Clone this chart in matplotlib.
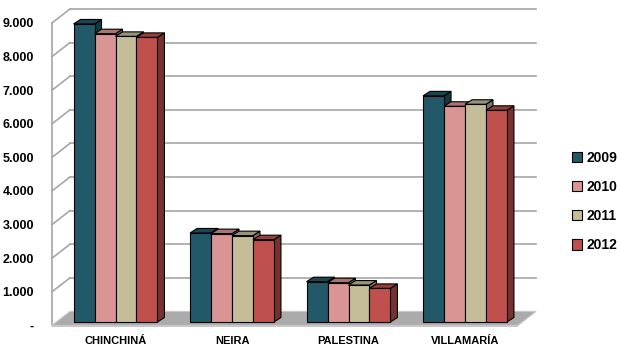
import numpy as np
import matplotlib.pyplot as plt
from matplotlib.patches import Polygon, Patch
from matplotlib.colors import to_rgb

# data
municipios = ["CHINCHINÁ", "NEIRA", "PALESTINA", "VILLAMARÍA"]
years = ["2009", "2010", "2011", "2012"]
v2009 = [8870, 2650, 1200, 6730]
v2010 = [8580, 2630, 1170, 6420]
v2011 = [8500, 2570, 1100, 6480]
v2012 = [8470, 2450, 1000, 6300]
yticks = [0, 1000, 2000, 3000, 4000, 5000, 6000, 7000, 8000, 9000]
colors = ["#215968", "#D99594", "#C4BD97", "#C0504D"]

series = [v2009, v2010, v2011, v2012]

def shade(c, f):
    return tuple(np.array(to_rgb(c)) * f)

fig = plt.figure(figsize=(6.17, 3.5), dpi=100)
W, H = 617, 350
ax = fig.add_axes([48 / W, 18 / H, (W - 48) / W, 332 / H])

px = 116.5          # pixels per category unit
vpp = 29.76         # value units per pixel
ax.set_xlim((48 - 115.5) / px, (617 - 115.5) / px)
ax.set_ylim(-6.6 * vpp, 325.4 * vpp)

# pseudo-3D geometry
wall_dx, wall_dy = 18 / px, 14 * vpp
bar_dx, bar_dy = 7 / px, 4.5 * vpp
bar_base = 3.4 * vpp
x_front_l = (52 - 115.5) / px
x_front_r = (518 - 115.5) / px
x_back_l = x_front_l + wall_dx
x_back_r = x_front_r + wall_dx
top = yticks[-1]
grid_c = "#A6A6A6"

# floor
ax.add_patch(Polygon([(x_front_l, 0), (x_front_r, 0), (x_back_r, wall_dy), (x_back_l, wall_dy)],
                     closed=True, fc="#ABABAB", ec="#C8C8C8", lw=0.8, zorder=1))
ax.add_patch(Polygon([(x_front_l, 0), (x_front_r, 0), (x_front_r, -2 * vpp), (x_front_l, -2 * vpp)],
                     closed=True, fc="#C8C8C8", ec="none", zorder=1))

# gridlines on back wall and left wall
for v in yticks[1:]:
    ax.plot([x_back_l, x_back_r], [v + wall_dy, v + wall_dy], color=grid_c, lw=1.2, zorder=0.5)
    ax.plot([x_front_l, x_back_l], [v, v + wall_dy], color=grid_c, lw=1.2, zorder=0.5)
ax.plot([x_front_l, x_front_l], [0, top], color=grid_c, lw=1.2, zorder=0.5)

# bars
bw = 0.18
x = np.arange(len(municipios))
z = 2
for g in range(len(municipios)):
    for i, vals in enumerate(series):
        xc = x[g] + (i - 1.5) * bw
        v = vals[g]
        xl, xr = xc - bw / 2, xc + bw / 2
        yb, yt = bar_base, bar_base + v
        ax.add_patch(Polygon([(xr, yb), (xr + bar_dx, yb + bar_dy), (xr + bar_dx, yt + bar_dy), (xr, yt)],
                             closed=True, fc=shade(colors[i], 0.62), ec="black", lw=0.8, zorder=z))
        ax.add_patch(Polygon([(xl, yt), (xl + bar_dx, yt + bar_dy), (xr + bar_dx, yt + bar_dy), (xr, yt)],
                             closed=True, fc=shade(colors[i], 0.78), ec="black", lw=0.8, zorder=z))
        ax.bar(xc, v, bw, bottom=bar_base, color=colors[i], edgecolor="black", lw=0.8, zorder=z + 0.5)
        z += 1

# axes text
for s in ax.spines.values():
    s.set_visible(False)
ax.set_yticks(yticks, ["-" if t == 0 else f"{t:,}".replace(",", ".") for t in yticks])
ax.set_xticks(x, municipios)
ax.tick_params(length=0)
ax.tick_params(axis="y", pad=10, labelsize=9)
ax.tick_params(axis="x", pad=3, labelsize=8)
for lab in ax.get_xticklabels() + ax.get_yticklabels():
    lab.set_fontweight("bold")
    lab.set_fontfamily(["Liberation Sans", "DejaVu Sans"])

handles = [Patch(fc=c, ec="black", lw=0.8) for c in colors]
leg = fig.legend(handles, years, loc="center left", bbox_to_anchor=(572 / W, 1 - 201.5 / H),
                 frameon=False, borderpad=0, borderaxespad=0, handlelength=0.75, handleheight=0.75,
                 handletextpad=0.3, labelspacing=1.1,
                 prop={"family": ["Liberation Sans", "DejaVu Sans"], "weight": "bold", "size": 10})

fig.savefig("out.png", dpi=100)
